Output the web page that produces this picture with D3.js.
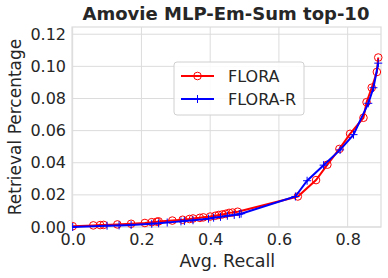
<!DOCTYPE html>
<html>
<head>
  <style>
    body { margin: 0; background: #fff; }
    text { font-family: "DejaVu Sans", sans-serif; fill: #262626; }
    .tick text { font-size: 16px; }
    .grid line { stroke: #dcdcdc; stroke-width: 1; }
  </style>
</head>
<body>
  <svg id="chart"></svg>
  <script src="https://d3js.org/d3.v7.min.js"></script>
  <script>
    // FLORA series (red circles)
    const floraX = [0.0, 0.06, 0.08, 0.09, 0.13, 0.17, 0.21, 0.23, 0.245, 0.25, 0.29, 0.32, 0.34, 0.35, 0.37, 0.38, 0.40, 0.415, 0.425, 0.435, 0.445, 0.455, 0.465, 0.48, 0.655, 0.708, 0.741, 0.776, 0.807, 0.846, 0.855, 0.87, 0.885, 0.889];
    const floraY = [0.0005, 0.001, 0.0012, 0.0013, 0.0016, 0.002, 0.0025, 0.003, 0.0033, 0.0035, 0.004, 0.0045, 0.005, 0.0053, 0.0057, 0.006, 0.0065, 0.007, 0.0075, 0.0078, 0.0082, 0.0088, 0.009, 0.0095, 0.019, 0.0292, 0.0388, 0.0486, 0.058, 0.068, 0.0777, 0.0867, 0.0965, 0.1055];

    // FLORA-R series (blue plus)
    const floraRX = [0.0, 0.1, 0.135, 0.17, 0.23, 0.25, 0.275, 0.315, 0.325, 0.35, 0.395, 0.41, 0.43, 0.45, 0.47, 0.485, 0.49, 0.648, 0.682, 0.73, 0.778, 0.817, 0.86, 0.875, 0.889];
    const floraRY = [0.0, 0.0008, 0.001, 0.0013, 0.002, 0.0023, 0.0028, 0.0035, 0.0037, 0.0042, 0.0052, 0.0058, 0.0063, 0.007, 0.0075, 0.008, 0.0083, 0.019, 0.0288, 0.0385, 0.048, 0.0575, 0.077, 0.0867, 0.102];

    const xTicks = [0.0, 0.2, 0.4, 0.6, 0.8];
    const yTicks = [0.00, 0.02, 0.04, 0.06, 0.08, 0.10, 0.12];
    const seriesNames = ["FLORA", "FLORA-R"];
    const seriesColors = ["#ff0000", "#0000ff"];

    const width = 388, height = 278;
    const margin = { top: 27, right: 7, bottom: 51, left: 72 };
    const svg = d3.select("#chart").attr("width", width).attr("height", height);

    const x = d3.scaleLinear().domain([-0.002, 0.897]).range([margin.left, width - margin.right]);
    const y = d3.scaleLinear().domain([0, 0.1245]).range([height - margin.bottom, margin.top]);

    // grid
    const grid = svg.append("g").attr("class", "grid");
    grid.selectAll(".vx").data(xTicks).enter().append("line")
      .attr("x1", d => x(d)).attr("x2", d => x(d))
      .attr("y1", margin.top).attr("y2", height - margin.bottom);
    grid.selectAll(".hy").data(yTicks).enter().append("line")
      .attr("x1", margin.left).attr("x2", width - margin.right)
      .attr("y1", d => y(d)).attr("y2", d => y(d));

    // frame
    svg.append("rect")
      .attr("x", margin.left).attr("y", margin.top)
      .attr("width", width - margin.left - margin.right)
      .attr("height", height - margin.top - margin.bottom)
      .attr("fill", "none").attr("stroke", "#dcdcdc").attr("stroke-width", 1.2);

    // axes (labels only)
    svg.append("g")
      .attr("transform", `translate(0,${height - margin.bottom})`)
      .call(d3.axisBottom(x).tickValues(xTicks).tickFormat(d3.format(".1f")).tickSize(0).tickPadding(7));
    svg.append("g")
      .attr("transform", `translate(${margin.left},0)`)
      .call(d3.axisLeft(y).tickValues(yTicks).tickFormat(d3.format(".2f")).tickSize(0).tickPadding(6));
    svg.selectAll(".domain").remove();

    // axis titles
    svg.append("text").attr("x", x(0.45)).attr("y", 267)
      .attr("text-anchor", "middle").style("font-size", "17.5px").text("Avg. Recall");
    svg.append("text").attr("transform", `translate(21,${(margin.top + height - margin.bottom) / 2}) rotate(-90)`)
      .attr("text-anchor", "middle").style("font-size", "17px").text("Retrieval Percentage");

    // title
    svg.append("text").attr("x", 226).attr("y", 20)
      .attr("text-anchor", "middle").style("font-size", "18px").style("font-weight", "bold")
      .text("Amovie MLP-Em-Sum top-10");

    const line = d3.line().x(d => x(d[0])).y(d => y(d[1]));
    svg.append("clipPath").attr("id", "clip").append("rect")
      .attr("x", margin.left).attr("y", margin.top - 10)
      .attr("width", width - margin.left - margin.right + 6)
      .attr("height", height - margin.top - margin.bottom + 14);

    const floraData = floraX.map((d, i) => [d, floraY[i]]);
    const floraRData = floraRX.map((d, i) => [d, floraRY[i]]);

    const plot = svg.append("g").attr("clip-path", "url(#clip)");

    plot.append("path").datum(floraData).attr("d", line)
      .attr("fill", "none").attr("stroke", seriesColors[0]).attr("stroke-width", 2);
    plot.selectAll(".circ").data(floraData).enter().append("circle")
      .attr("cx", d => x(d[0])).attr("cy", d => y(d[1])).attr("r", 3.8)
      .attr("fill", "none").attr("stroke", seriesColors[0]).attr("stroke-width", 1);

    plot.append("path").datum(floraRData).attr("d", line)
      .attr("fill", "none").attr("stroke", seriesColors[1]).attr("stroke-width", 2);
    plot.selectAll(".plus").data(floraRData).enter().append("path")
      .attr("d", d => `M${x(d[0]) - 4},${y(d[1])}h8M${x(d[0])},${y(d[1]) - 4}v8`)
      .attr("stroke", seriesColors[1]).attr("stroke-width", 1);

    // legend
    const lg = svg.append("g").attr("transform", "translate(174,62)");
    lg.append("rect").attr("width", 130).attr("height", 53).attr("rx", 3)
      .attr("fill", "white").attr("fill-opacity", 0.85)
      .attr("stroke", "#d0d0d0").attr("stroke-width", 1);
    seriesNames.forEach((name, i) => {
      const ry = 14 + i * 23;
      lg.append("line").attr("x1", 7).attr("x2", 40).attr("y1", ry).attr("y2", ry)
        .attr("stroke", seriesColors[i]).attr("stroke-width", 2);
      if (i === 0) {
        lg.append("circle").attr("cx", 23.5).attr("cy", ry).attr("r", 3.8)
          .attr("fill", "none").attr("stroke", seriesColors[i]).attr("stroke-width", 1);
      } else {
        lg.append("path").attr("d", `M19.5,${ry}h8M23.5,${ry - 4}v8`)
          .attr("stroke", seriesColors[i]).attr("stroke-width", 1);
      }
      lg.append("text").attr("x", 54).attr("y", ry + 6).style("font-size", "16px").text(name);
    });
  </script>
</body>
</html>
